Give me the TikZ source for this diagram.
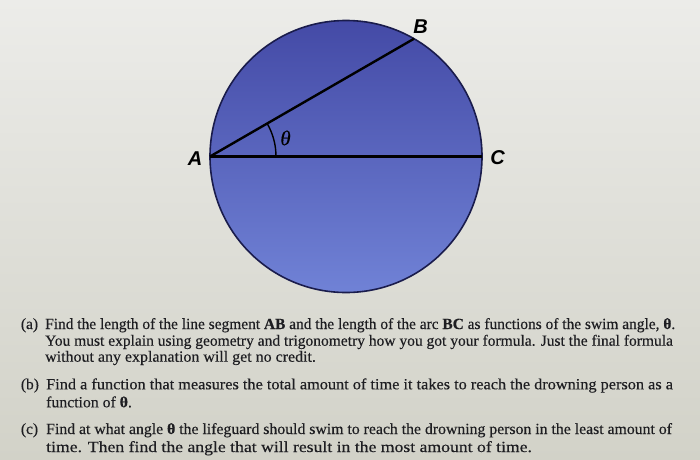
\documentclass[tikz,border=0pt]{standalone}
\usepackage{fontspec}
\setmainfont{Liberation Serif}
\newfontfamily\qfont[FakeBold=0.35]{Liberation Serif}
\newfontfamily\labfont{Liberation Sans}
\usepackage{graphicx}
\usetikzlibrary{calc}
\definecolor{bgtop}{RGB}{236,236,233}
\definecolor{bgbot}{RGB}{210,210,200}
\definecolor{disctop}{RGB}{68,74,166}
\definecolor{discbot}{RGB}{112,130,214}
\definecolor{rim}{RGB}{26,28,76}
\definecolor{ink}{RGB}{30,30,34}
\tikzset{
  ptlabel/.style={font=\labfont\bfseries\itshape\fontsize{20}{20}\selectfont, text=black, inner sep=0pt},
  seg/.style={line width=2.4pt, draw=black},
  qline/.style={anchor=base west, inner sep=0pt, text=ink, font=\qfont\fontsize{15.5}{18}\selectfont},
  thlabel/.style={inner sep=0pt, text=black, font=\qfont\itshape\fontsize{21}{21}\selectfont},
}
\begin{document}
\begin{tikzpicture}[x=1pt,y=1pt]
\useasboundingbox (0,0) rectangle (700,-459);
\shade[top color=bgtop,bottom color=bgbot] (0,0) rectangle (700,-459);
\coordinate (O) at (346,-156.5);
\coordinate (A) at (210,-156.5);
\coordinate (C) at (482,-156.5);
\coordinate (B) at ($(O)+(60:136)$);
\shade[top color=disctop,bottom color=discbot] (O) circle (136);
\draw[rim,line width=1.6pt] (O) circle (136);
\draw[seg] (A) -- (C);
\draw[seg] (A) -- (B);
\draw[line width=1.4pt, black] ($(A)+(66,0)$) arc (0:30:66);
\node[ptlabel] (la) at (195,-158.5) {A};
\node[ptlabel] (lb) at (420.5,-26.5) {B};
\node[ptlabel] (lc) at (497.5,-157.5) {C};
\node[thlabel] (th) at (285.5,-138) {θ};
% questions
\node[qline] (pa) at (20.7,-329) {(a)};
\node[qline] (a1) at (45,-329) {\resizebox{630pt}{\height}{Find the length of the line segment \textbf{AB} and the length of the arc \textbf{BC} as functions of the swim angle, \textbf{θ}.}};
\node[qline] (a2) at (45,-345.7) {\resizebox{627.7pt}{\height}{You must explain using geometry and trigonometry how you got your formula. Just the final formula}};
\node[qline] (a3) at (45,-361.7) {\resizebox{270.7pt}{\height}{without any explanation will get no credit.}};
\node[qline] (pb) at (20.7,-389.3) {(b)};
\node[qline] (b1) at (46,-389.3) {\resizebox{626.7pt}{\height}{Find a function that measures the total amount of time it takes to reach the drowning person as a}};
\node[qline] (b2) at (46,-407.3) {\resizebox{85.7pt}{\height}{function of \textbf{θ}.}};
\node[qline] (pc) at (20.7,-434) {(c)};
\node[qline] (c1) at (46,-434) {\resizebox{625.7pt}{\height}{Find at what angle \textbf{θ} the lifeguard should swim to reach the drowning person in the least amount of}};
\node[qline] (c2) at (46,-452) {\resizebox{485.7pt}{\height}{time. Then find the angle that will result in the most amount of time.}};
\end{tikzpicture}
\end{document}
